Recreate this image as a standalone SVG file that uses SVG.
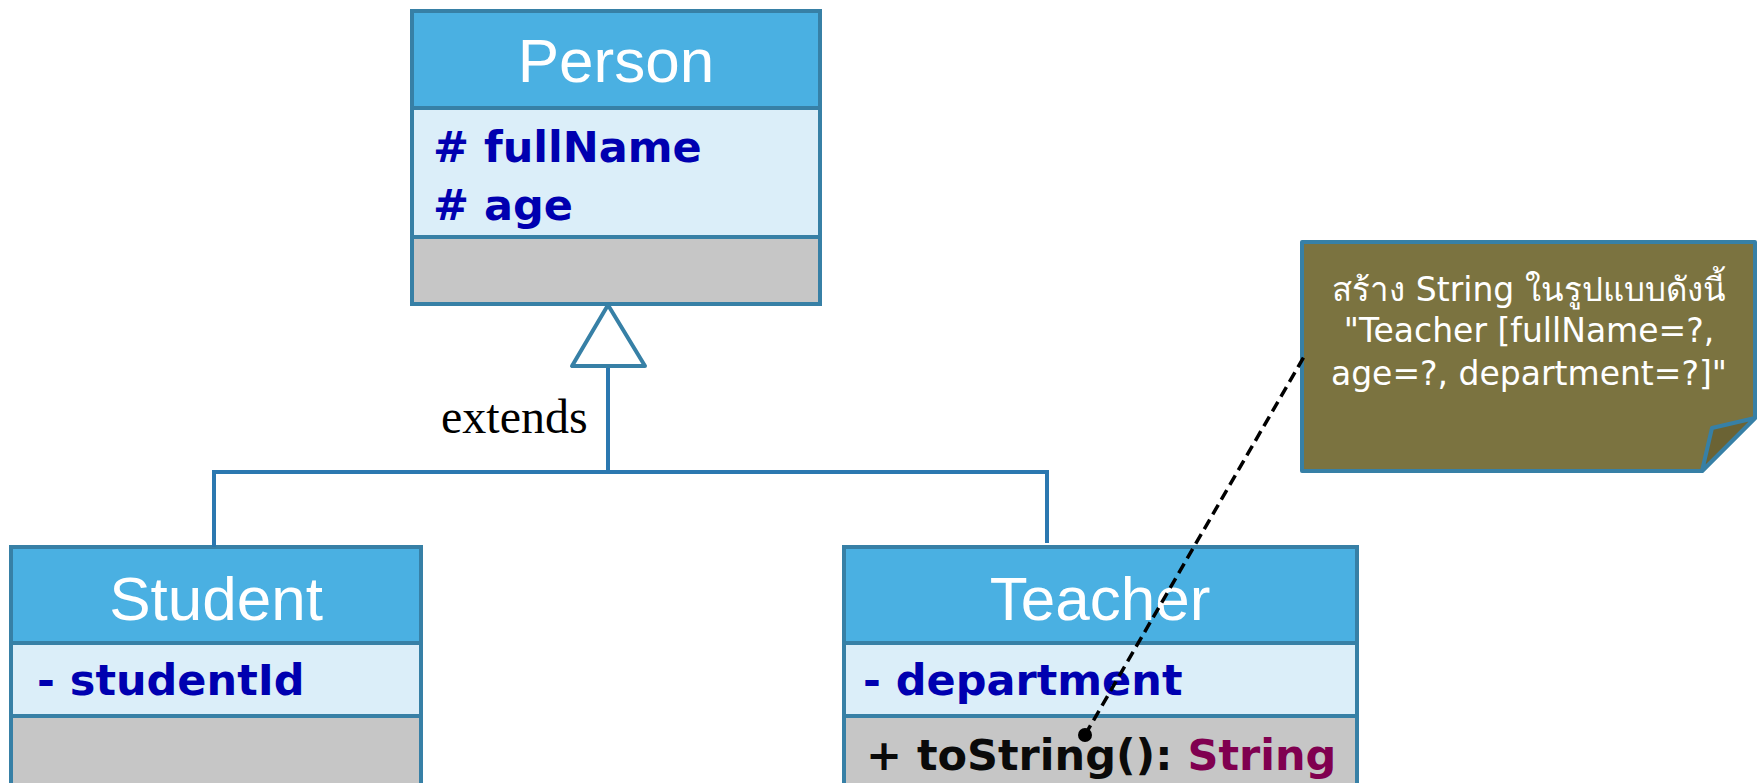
<svg xmlns="http://www.w3.org/2000/svg" width="1760" height="783" viewBox="0 0 1760 783">
  <style>
    .box { stroke: #3780a6; stroke-width: 4; }
    .head { fill: #4ab0e2; }
    .attr { fill: #dbeef9; }
    .meth { fill: #c6c6c6; }
    .title { font-family: "Liberation Sans", Arial, sans-serif; font-size: 62px; fill: #ffffff; text-anchor: middle; }
    .field { font-family: "DejaVu Sans", Verdana, sans-serif; font-weight: bold; font-size: 43px; fill: #0000b0; }
    .op { font-family: "DejaVu Sans", Verdana, sans-serif; font-weight: bold; font-size: 43px; fill: #0a0a0a; }
    .type { fill: #800050; }
    .link { stroke: #2b78b0; stroke-width: 4; fill: none; }
    .note-text { font-family: "DejaVu Sans", "Noto Sans", sans-serif; font-size: 33px; fill: #ffffff; text-anchor: middle; }
  </style>

  <g id="person">
    <rect class="box head" x="412" y="11" width="408" height="97"/>
    <rect class="box attr" x="412" y="108" width="408" height="129"/>
    <rect class="box meth" x="412" y="237" width="408" height="67"/>
    <text class="title" x="616" y="82">Person</text>
    <text class="field" x="433" y="162"># fullName</text>
    <text class="field" x="433" y="220"># age</text>
  </g>

  <g id="student">
    <rect class="box head" x="11" y="547" width="410" height="96"/>
    <rect class="box attr" x="11" y="643" width="410" height="73"/>
    <rect class="box meth" x="11" y="716" width="410" height="90"/>
    <text class="title" x="216" y="620">Student</text>
    <text class="field" x="37" y="695">- studentId</text>
  </g>

  <g id="teacher">
    <rect class="box head" x="844" y="547" width="513" height="96"/>
    <rect class="box attr" x="844" y="643" width="513" height="73"/>
    <rect class="box meth" x="844" y="716" width="513" height="90"/>
    <text class="title" x="1100" y="620">Teacher</text>
    <text class="field" x="863" y="695">- department</text>
    <text class="op" x="866" y="770">+ toString(): <tspan class="type">String</tspan></text>
  </g>

  <g id="note">
    <polygon points="1302,242 1755,242 1755,418 1702,471 1302,471" fill="#7b7340" stroke="#3780a6" stroke-width="4" stroke-linejoin="round"/>
    <polygon points="1755,418 1712,428 1702,471" fill="#6b6334" stroke="#3780a6" stroke-width="4" stroke-linejoin="round"/>
    <text class="note-text" x="1529" y="301">สร้าง String ในรูปแบบดังนี้</text>
    <text class="note-text" x="1529" y="342">"Teacher [fullName=?,</text>
    <text class="note-text" x="1529" y="385">age=?, department=?]"</text>
  </g>

  <!-- generalization tree and note anchor, drawn over the class boxes -->
  <g id="connectors">
    <polyline class="link" points="214,547 214,472 1047,472 1047,543"/>
    <line class="link" x1="608" y1="472" x2="608" y2="366"/>
    <polygon points="608,305 572,366 645,366" fill="#ffffff" stroke="#3780a6" stroke-width="4" stroke-linejoin="round"/>
    <text x="441" y="433" font-family="Liberation Serif, 'Times New Roman', serif" font-size="48" fill="#000000">extends</text>
    <line x1="1085" y1="735" x2="1305" y2="355" stroke="#000000" stroke-width="3.5" stroke-dasharray="11,6"/>
    <circle cx="1085" cy="735" r="7" fill="#000000"/>
  </g>
</svg>
